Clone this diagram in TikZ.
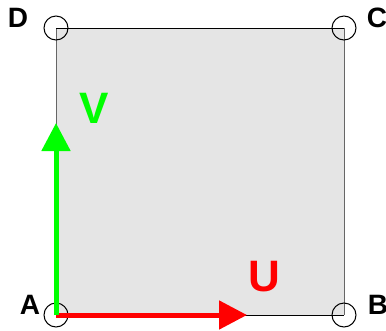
\documentclass[tikz,border=0pt]{standalone}
\usepackage{fontspec}
\setmainfont{Liberation Sans}
\usepackage{xcolor}
\usepackage{tikz}
\usetikzlibrary{
    arrows.meta,
    positioning
}

\begin{document}
\begin{tikzpicture}[
    x=1pt, y=-1pt,
    corner/.style={
        draw,
        circle,
        line width=1pt,
        inner sep=0pt,
        minimum size=24pt
    },
    edge/.style={
        line width=1pt
    },
    letter/.style={
        font=\bfseries\fontsize{28}{28}\selectfont,
        inner sep=0pt
    },
    vec/.style={
        font=\bfseries\fontsize{44}{44}\selectfont,
        inner sep=0pt
    },
    arrow/.style={-{Triangle[length=28pt,width=28pt]},line width=5pt}
]
\useasboundingbox (0,0) rectangle (386,330);

\coordinate (A) at (56,315);
\coordinate (B) at (344,315);
\coordinate (C) at (344,28);
\coordinate (D) at (56,28);

\fill[gray!20] (A) rectangle (C);
\draw[edge,black!60] (A) -- (D);
\draw[edge,black!60] (B) -- (C);
\draw[edge] (D) -- (C);
\draw[edge] (A) -- (B);

\node[corner] (cA) at (A) {};
\node[corner] (cB) at (B) {};
\node[corner] (cC) at (C) {};
\node[corner] (cD) at (D) {};

\node[letter] (lA) at (30,305) {A};
\node[letter] (lB) at (378,305) {B};
\node[letter] (lC) at (377,18) {C};
\node[letter] (lD) at (18,18) {D};

\coordinate (uend) at (247,315);
\coordinate (vend) at (56,123);

\draw[arrow,red] (A) -- (uend);
\draw[arrow,green] (A) -- (vend);

\node[vec,red] (U) at (264,277) {U};
\node[vec,green] (V) at (94,108) {V};

\end{tikzpicture}
\end{document}
